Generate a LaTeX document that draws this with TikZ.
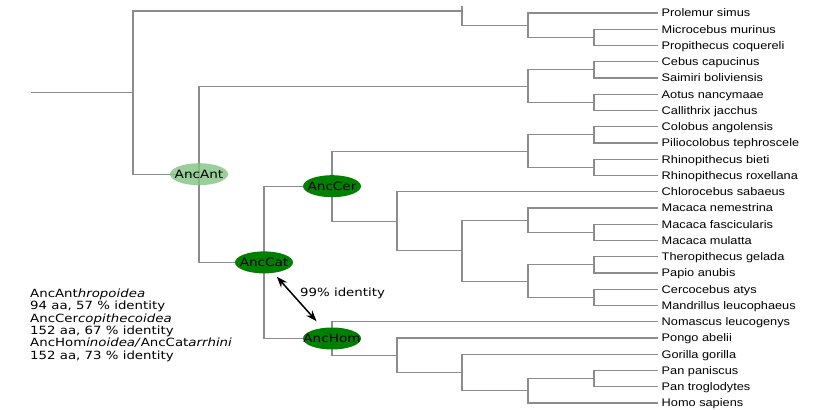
\documentclass[tikz,border=0pt]{standalone}
\usepackage{fontspec}
\setmainfont{DejaVu Sans}[FakeStretch=1.18]
\newfontfamily\leaffont{Liberation Sans}[FakeStretch=1.16]
\usetikzlibrary{shapes.geometric,arrows.meta,backgrounds}
\definecolor{ancdark}{RGB}{0,128,0}
\definecolor{anclight}{RGB}{128,196,128}
\definecolor{branch}{RGB}{140,140,140}

\begin{document}
\begin{tikzpicture}[x=1pt,y=-1pt]
        \tikzstyle{anc}=[ellipse,fill=ancdark,minimum width=58pt,minimum height=22pt,inner sep=0pt,label={[font=\fontsize{11.5}{13}\selectfont,inner sep=0pt]center:#1}]
        \tikzstyle{leaf}=[anchor=west,inner xsep=3.5pt,inner ysep=0pt,text height=8pt,text depth=0.5pt,font=\leaffont\fontsize{11}{13}\selectfont]
        \tikzstyle{edge}=[draw,branch,line width=1.1pt]
        \tikzstyle{ident}=[draw,line width=1.5pt,{Stealth[length=11pt,width=8pt]}-{Stealth[length=11pt,width=8pt]}]
        \useasboundingbox (0,0) rectangle (815,410);
        \begin{scope}
           \clip (0,0) rectangle (798,410);
           % leaves
           \node [leaf] (l1) at (658,13) {Prolemur simus};
           \node [leaf] (l2) at (658,29.25) {Microcebus murinus};
           \node [leaf] (l3) at (658,45.5) {Propithecus coquereli};
           \node [leaf] (l4) at (658,61.75) {Cebus capucinus};
           \node [leaf] (l5) at (658,78) {Saimiri boliviensis};
           \node [leaf] (l6) at (658,94.25) {Aotus nancymaae};
           \node [leaf] (l7) at (658,110.5) {Callithrix jacchus};
           \node [leaf] (l8) at (658,126.75) {Colobus angolensis};
           \node [leaf] (l9) at (658,143) {Piliocolobus tephrosceles};
           \node [leaf] (l10) at (658,159.25) {Rhinopithecus bieti};
           \node [leaf] (l11) at (658,175.5) {Rhinopithecus roxellana};
           \node [leaf] (l12) at (658,191.75) {Chlorocebus sabaeus};
           \node [leaf] (l13) at (658,208) {Macaca nemestrina};
           \node [leaf] (l14) at (658,224.25) {Macaca fascicularis};
           \node [leaf] (l15) at (658,240.5) {Macaca mulatta};
           \node [leaf] (l16) at (658,256.75) {Theropithecus gelada};
           \node [leaf] (l17) at (658,273) {Papio anubis};
           \node [leaf] (l18) at (658,289.25) {Cercocebus atys};
           \node [leaf] (l19) at (658,305.5) {Mandrillus leucophaeus};
           \node [leaf] (l20) at (658,321.75) {Nomascus leucogenys};
           \node [leaf] (l21) at (658,338) {Pongo abelii};
           \node [leaf] (l22) at (658,354.25) {Gorilla gorilla};
           \node [leaf] (l23) at (658,370.5) {Pan paniscus};
           \node [leaf] (l24) at (658,386.75) {Pan troglodytes};
           \node [leaf] (l25) at (658,403) {Homo sapiens};
        \end{scope}
        % inner nodes
        \coordinate (stem) at (31,92.6);
        \coordinate (root) at (133,92.6);
        \coordinate (n1) at (462,11);
        \coordinate (n1top) at (462,6);
        \coordinate (n2) at (528,25.2);
        \coordinate (n3) at (594,37.4);
        \coordinate (n4) at (528,86.1);
        \coordinate (n5) at (594,69.9);
        \coordinate (n6) at (594,102.4);
        \coordinate (n7) at (528,151.1);
        \coordinate (n8) at (397,221.2);
        \coordinate (n9) at (594,134.9);
        \coordinate (n10) at (594,167.4);
        \coordinate (n11) at (462,250.7);
        \coordinate (n12) at (528,220.2);
        \coordinate (n13) at (528,281.1);
        \coordinate (n14) at (594,232.4);
        \coordinate (n15) at (594,264.9);
        \coordinate (n16) at (594,297.4);
        \coordinate (n17) at (397,355.3);
        \coordinate (n18) at (462,372.5);
        \coordinate (n19) at (528,390.8);
        \coordinate (n20) at (594,378.6);
        % ancestors
        \node [anc=AncAnt,fill=anclight,fill opacity=0.8] (AncAnt) at (199,174.2) {};
        \node [anc=AncCat] (AncCat) at (264,262.4) {};
        \node [anc=AncCer] (AncCer) at (332,186.2) {};
        \node [anc=AncHom] (AncHom) at (332,338.5) {};
        \begin{scope}[on background layer]
           \path[edge] (stem) -- (root);
           \path[edge] (root) |- (n1);
           \path[edge] (n1top) -- (n1);
           \path[edge] (n1) |- (n2);
           \path[edge] (n2) |- (l1.west);
           \path[edge] (n2) |- (n3);
           \path[edge] (n3) |- (l2.west);
           \path[edge] (n3) |- (l3.west);
           \path[edge] (root) |- (AncAnt.center);
           \path[edge] (AncAnt.center) |- (n4);
           \path[edge] (n4) |- (n5);
           \path[edge] (n4) |- (n6);
           \path[edge] (n5) |- (l4.west);
           \path[edge] (n5) |- (l5.west);
           \path[edge] (n6) |- (l6.west);
           \path[edge] (n6) |- (l7.west);
           \path[edge] (AncAnt.center) |- (AncCat.center);
           \path[edge] (AncCat.center) |- (AncCer.center);
           \path[edge] (AncCat.center) |- (AncHom.center);
           \path[edge] (AncCer.center) |- (n7);
           \path[edge] (AncCer.center) |- (n8);
           \path[edge] (n7) |- (n9);
           \path[edge] (n7) |- (n10);
           \path[edge] (n9) |- (l8.west);
           \path[edge] (n9) |- (l9.west);
           \path[edge] (n10) |- (l10.west);
           \path[edge] (n10) |- (l11.west);
           \path[edge] (n8) |- (l12.west);
           \path[edge] (n8) |- (n11);
           \path[edge] (n11) |- (n12);
           \path[edge] (n11) |- (n13);
           \path[edge] (n12) |- (l13.west);
           \path[edge] (n12) |- (n14);
           \path[edge] (n14) |- (l14.west);
           \path[edge] (n14) |- (l15.west);
           \path[edge] (n13) |- (n15);
           \path[edge] (n13) |- (n16);
           \path[edge] (n15) |- (l16.west);
           \path[edge] (n15) |- (l17.west);
           \path[edge] (n16) |- (l18.west);
           \path[edge] (n16) |- (l19.west);
           \path[edge] (AncHom.center) |- (l20.west);
           \path[edge] (AncHom.center) |- (n17);
           \path[edge] (n17) |- (l21.west);
           \path[edge] (n17) |- (n18);
           \path[edge] (n18) |- (l22.west);
           \path[edge] (n18) |- (n19);
           \path[edge] (n19) |- (n20);
           \path[edge] (n19) |- (l25.west);
           \path[edge] (n20) |- (l23.west);
           \path[edge] (n20) |- (l24.west);
        \end{scope}
        % identity between ancestors
        \path[ident,shorten <=5pt,shorten >=9pt] (AncCat) -- (AncHom);
        \node [anchor=west,inner sep=0pt,font=\fontsize{11.3}{13}\selectfont] (idlabel) at (300,293) {99\% identity};
        \node [anchor=north west,inner sep=0pt,align=left,font=\fontsize{11.3}{12.4}\selectfont] (legend) at (30,288.5)
           {AncAnt\textit{hropoidea}\\
            94 aa, 57 \% identity\\
            AncCer\textit{copithecoidea}\\
            152 aa, 67 \% identity\\
            AncHom\textit{inoidea/}AncCat\textit{arrhini}\\
            152 aa, 73 \% identity};
      \end{tikzpicture}
\end{document}
